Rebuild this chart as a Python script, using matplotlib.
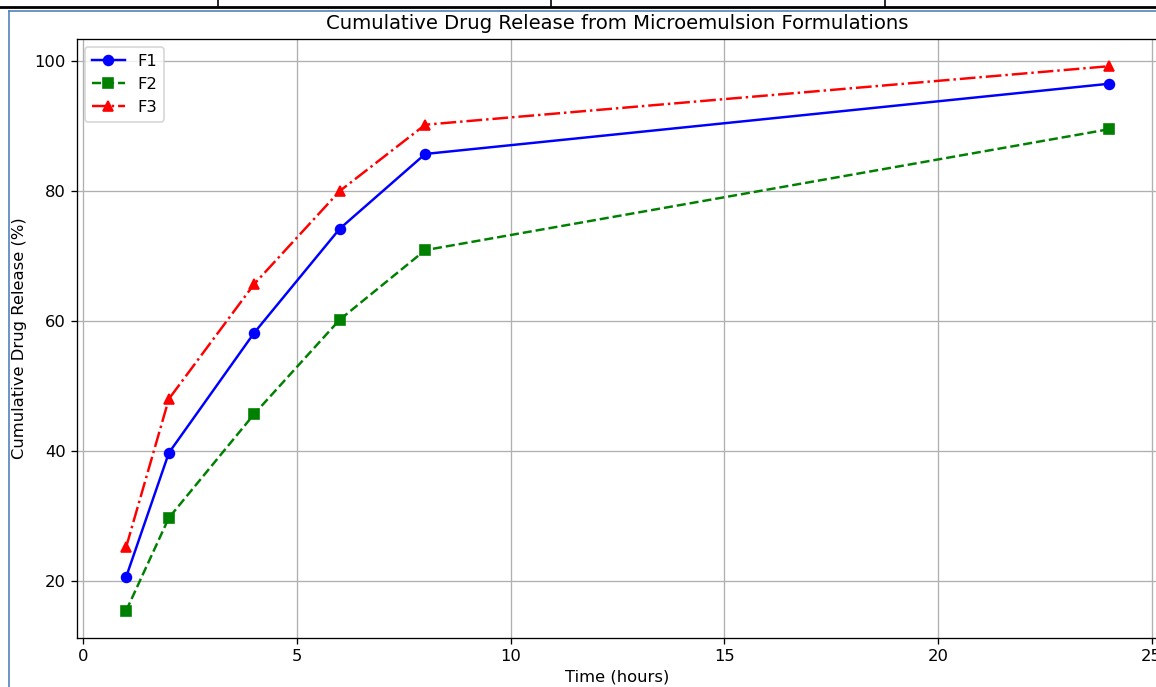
import matplotlib
matplotlib.use("Agg")
import matplotlib.pyplot as plt
from matplotlib.lines import Line2D

time_h = [1, 2, 4, 6, 8, 24]
f1 = [20.6, 39.7, 58.2, 74.2, 85.7, 96.5]
f2 = [15.4, 29.7, 45.7, 60.2, 70.9, 89.5]
f3 = [25.2, 48.0, 65.7, 80.0, 90.2, 99.2]

W, H = 1156, 687
DPI = 118
fig = plt.figure(figsize=(W / DPI, H / DPI), dpi=DPI)

# axes placed in pixel terms, right edge runs past the picture (cropped screenshot)
left, top, bottom, right = 77, 39, 638, 1158
ax = fig.add_axes([left / W, (H - bottom) / H, (right - left) / W, (bottom - top) / H])

ax.plot(time_h, f1, 'b-o', label='F1')
ax.plot(time_h, f2, 'g--s', label='F2')
ax.plot(time_h, f3, 'r-.^', label='F3')
ax.set_title('Cumulative Drug Release from Microemulsion Formulations')
ax.set_xlabel('Time (hours)', labelpad=3)
ax.set_ylabel('Cumulative Drug Release (%)')
ax.yaxis.set_label_coords((27 - left) / (right - left), 0.5)
ax.grid(True)
ax.legend(loc='upper left')

# screenshot leftovers: table border above and blue frame round the chart
def px_line(xs, ys, **kw):
    fig.add_artist(Line2D([x / W for x in xs], [1 - y / H for y in ys],
                          transform=fig.transFigure, **kw))

px_line([0, W], [7, 7], color='black', lw=1.7)
for vx in [218, 551, 885]:
    px_line([vx, vx], [0, 7], color='black', lw=1.0)
px_line([9, W], [11, 11], color='#4f81bd', lw=1.0)
px_line([9, 9], [11, H], color='#4f81bd', lw=1.0)

fig.savefig('out.png', dpi=DPI)
